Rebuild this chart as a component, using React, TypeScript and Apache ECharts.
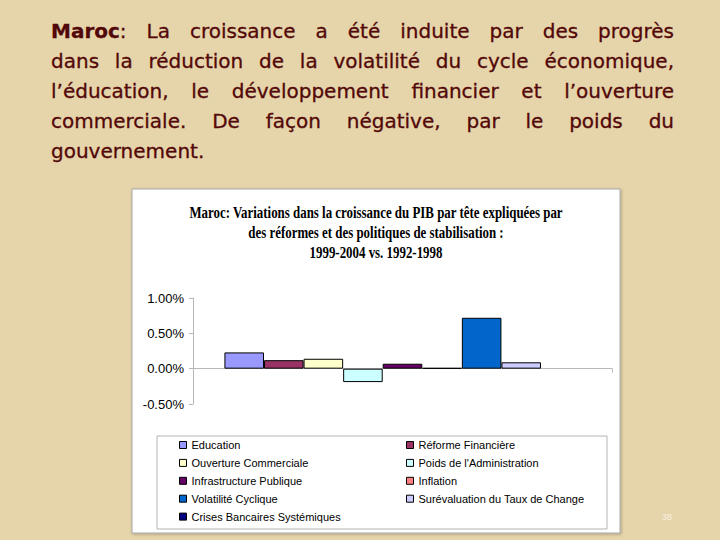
import React, { useEffect, useRef } from "react";
import * as echarts from "echarts";

// ---------- data ----------
const categories = ["1999-2004 vs. 1992-1998"];
const seriesNames = [
  "Education",
  "Réforme Financière",
  "Ouverture Commerciale",
  "Poids de l'Administration",
  "Infrastructure Publique",
  "Inflation",
  "Volatilité Cyclique",
  "Surévaluation du Taux de Change",
  "Crises Bancaires Systémiques",
];
const seriesValues = [0.23, 0.12, 0.14, -0.19, 0.07, 0.01, 0.72, 0.09, 0];
const seriesColors = [
  "#9999FF",
  "#993366",
  "#FFFFCC",
  "#CCFFFF",
  "#660066",
  "#FF8080",
  "#0066CC",
  "#CCCCFF",
  "#000080",
];
const yMin = -0.5;
const yMax = 1.0;
const yInterval = 0.5;
const legendLeftColumn = [
  "Education",
  "Ouverture Commerciale",
  "Infrastructure Publique",
  "Volatilité Cyclique",
  "Crises Bancaires Systémiques",
];
const legendRightColumn = [
  "Réforme Financière",
  "Poids de l'Administration",
  "Inflation",
  "Surévaluation du Taux de Change",
];
const titleLines = [
  "Maroc: Variations dans la croissance du PIB par tête expliquées par",
  "des réformes et des politiques de stabilisation :",
  "1999-2004 vs. 1992-1998",
];
const paragraphLines = [
  "Maroc: La croissance a été induite par des progrès",
  "dans la réduction de la volatilité du cycle économique,",
  "l’éducation, le développement financier et l’ouverture",
  "commerciale. De façon négative, par le poids du",
  "gouvernement.",
];
const pageNumber = "38";

// ---------- helpers ----------
const measureCtx =
  typeof document !== "undefined"
    ? document.createElement("canvas").getContext("2d")
    : null;
function measure(text: string, font: string): number {
  if (!measureCtx) return text.length * 10;
  measureCtx.font = font;
  return measureCtx.measureText(text).width;
}

const PARA_FAMILY = "DejaVu Sans";
const PARA_SIZE = 20;
const PARA_COLOR = "#520808";
const PARA_LEFT = 51;
const PARA_RIGHT = 674;
const PARA_TOP = 30.5;
const PARA_STEP = 30;

function paraText(text: string, x: number, y: number, bold: boolean): any {
  return {
    type: "text",
    x,
    y,
    silent: true,
    style: {
      text,
      fontFamily: PARA_FAMILY,
      fontSize: PARA_SIZE,
      fontWeight: bold ? "bold" : "normal",
      fill: PARA_COLOR,
      stroke: PARA_COLOR,
      lineWidth: 0.3,
      textAlign: "left",
      textVerticalAlign: "middle",
    },
  };
}

function buildParagraph(): any[] {
  const reg = `${PARA_SIZE}px '${PARA_FAMILY}'`;
  const bold = `bold ${PARA_SIZE}px '${PARA_FAMILY}'`;
  const els: any[] = [];
  paragraphLines.forEach((line, li) => {
    const words = line.split(" ");
    const widths = words.map((w, wi) => {
      if (li === 0 && wi === 0) {
        return measure("Maroc", bold) + measure(":", reg);
      }
      return measure(w, reg);
    });
    const total = widths.reduce((a, b) => a + b, 0);
    const justify = li < paragraphLines.length - 1 && words.length > 1;
    const gap = justify
      ? (PARA_RIGHT - PARA_LEFT - total) / (words.length - 1)
      : measure(" ", reg);
    let x = PARA_LEFT;
    const y = PARA_TOP + li * PARA_STEP;
    words.forEach((w, wi) => {
      if (li === 0 && wi === 0) {
        const wb = measure("Maroc", bold);
        els.push(paraText("Maroc", x, y, true));
        els.push(paraText(":", x + wb, y, false));
      } else {
        els.push(paraText(w, x, y, false));
      }
      x += widths[wi] + gap;
    });
  });
  return els;
}

const TITLE_FAMILY = "Liberation Serif";
const TITLE_SIZE = 16;
const TITLE_TARGET_WIDTH = 374;

function buildTitle(): any[] {
  const font = `bold ${TITLE_SIZE}px '${TITLE_FAMILY}'`;
  const scale = TITLE_TARGET_WIDTH / measure(titleLines[0], font);
  return titleLines.map((t, i) => ({
    type: "text",
    x: 376,
    y: 212.5 + i * 20.2,
    scaleX: scale,
    silent: true,
    style: {
      text: t,
      fontFamily: TITLE_FAMILY,
      fontSize: TITLE_SIZE,
      fontWeight: "bold",
      fill: "#000000",
      textAlign: "center",
      textVerticalAlign: "middle",
    },
  }));
}

export default function App() {
  const ref = useRef<HTMLDivElement>(null);

  useEffect(() => {
    if (!ref.current) return;
    const chart = echarts.init(ref.current, null, { renderer: "svg" });

    const series = seriesNames.map((name, i) => ({
      name,
      type: "bar",
      barGap: "0%",
      barCategoryGap: "15%",
      itemStyle: {
        color: seriesColors[i],
        borderColor: "#000000",
        borderWidth: 1,
      },
      data: [
        seriesValues[i] === 0
          ? { value: seriesValues[i], itemStyle: { borderWidth: 0 } }
          : seriesValues[i],
      ],
    }));

    const legendCommon = {
      orient: "vertical",
      top: 438,
      padding: 0,
      itemWidth: 7,
      itemHeight: 7,
      itemGap: 3.9,
      icon: "rect",
      selectedMode: false,
      textStyle: {
        fontFamily: "Liberation Sans",
        fontSize: 11,
        lineHeight: 14,
        color: "#000000",
      },
      itemStyle: { borderColor: "#000000", borderWidth: 1 },
    };

    const option: any = {
      animation: false,
      backgroundColor: "#e6d4aa",
      graphic: [
        ...buildParagraph(),
        {
          type: "rect",
          z: -10,
          silent: true,
          shape: { x: 132, y: 189, width: 488, height: 344 },
          style: {
            fill: "#ffffff",
            stroke: "#a8a8a8",
            lineWidth: 1,
            shadowBlur: 3,
            shadowColor: "rgba(0,0,0,0.25)",
            shadowOffsetX: 1,
            shadowOffsetY: 1,
          },
        },
        {
          type: "rect",
          z: -5,
          silent: true,
          shape: { x: 157, y: 436, width: 450, height: 93 },
          style: { fill: "#ffffff", stroke: "#b4b4b4", lineWidth: 1 },
        },
        ...buildTitle(),
        {
          type: "text",
          x: 667,
          y: 517,
          silent: true,
          style: {
            text: pageNumber,
            fontFamily: "Liberation Sans",
            fontSize: 9,
            fill: "#f6f0e0",
            textAlign: "center",
            textVerticalAlign: "middle",
          },
        },
      ],
      grid: { left: 193, right: 108, top: 298, bottom: 136 },
      xAxis: {
        type: "category",
        data: categories,
        axisLabel: { show: false },
        axisTick: { show: true, length: 4, lineStyle: { color: "#b8b8b8" } },
        axisLine: { onZero: true, lineStyle: { color: "#b8b8b8", width: 1 } },
        splitLine: { show: false },
      },
      yAxis: {
        type: "value",
        min: yMin,
        max: yMax,
        interval: yInterval,
        axisLine: { show: true, lineStyle: { color: "#b8b8b8", width: 1 } },
        axisTick: { show: true, length: 4, lineStyle: { color: "#b8b8b8" } },
        splitLine: { show: false },
        axisLabel: {
          margin: 9,
          fontFamily: "Liberation Sans",
          fontSize: 13,
          color: "#000000",
          formatter: (v: number) => v.toFixed(2) + "%",
        },
      },
      legend: [
        { ...legendCommon, left: 179, data: legendLeftColumn },
        { ...legendCommon, left: 406, data: legendRightColumn },
      ],
      series,
    };

    chart.setOption(option);
    return () => chart.dispose();
  }, []);

  return (
    <div
      ref={ref}
      style={{ position: "absolute", left: 0, top: 0, width: 720, height: 540 }}
    />
  );
}
